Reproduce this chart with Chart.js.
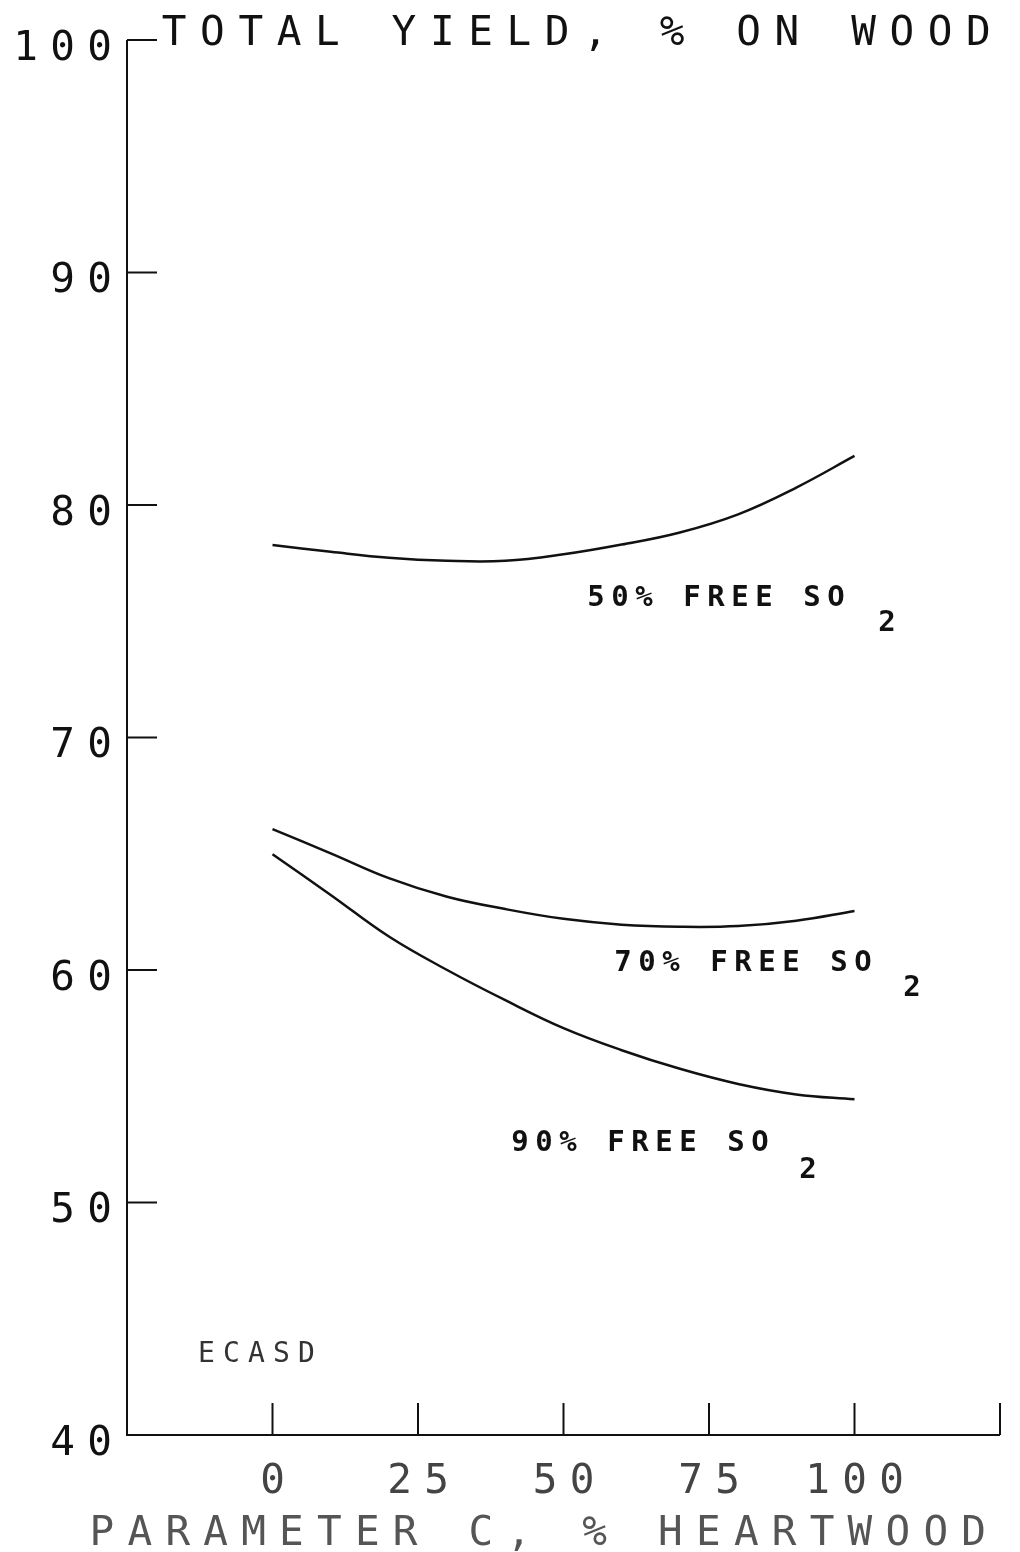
<!DOCTYPE html>
<html>
<head>
<meta charset="utf-8">
<script src="https://cdn.jsdelivr.net/npm/chart.js@4.4.1/dist/chart.umd.min.js"></script>
<style>
  html, body { margin: 0; padding: 0; background: #ffffff; }
  #wrap { width: 1020px; height: 1552px; }
</style>
</head>
<body>
<div id="wrap"><canvas id="c" width="1020" height="1552"></canvas></div>
<script>
// ---- data ----
const heartwood = [0, 10, 20, 30, 40, 50, 60, 70, 80, 90, 100];
const yield50 = [78.28, 77.99, 77.73, 77.60, 77.60, 77.88, 78.30, 78.82, 79.60, 80.75, 82.11];
const yield70 = [66.06, 65.02, 63.95, 63.15, 62.62, 62.20, 61.95, 61.86, 61.89, 62.12, 62.54];
const yield90 = [64.98, 63.23, 61.44, 60.00, 58.70, 57.50, 56.55, 55.75, 55.10, 54.65, 54.44];
const yTickValues = [40, 50, 60, 70, 80, 90, 100];
const xTickValues = [0, 25, 50, 75, 100, 125];
const xTickLabels = ["0", "25", "50", "75", "100"];
const seriesNames = ["50% FREE SO", "70% FREE SO", "90% FREE SO"];
const titleText = "TOTAL YIELD, % ON WOOD";
const xTitleText = "PARAMETER C, % HEARTWOOD";
const noteText = "ECASD";

const FONT = '"DejaVu Sans Mono", "Liberation Mono", monospace';

function drawMono(ctx, text, startX, centerY, advance, size, color, weight) {
  ctx.save();
  ctx.font = (weight || 'normal') + ' ' + size + 'px ' + FONT;
  ctx.fillStyle = color;
  ctx.textAlign = 'center';
  ctx.textBaseline = 'alphabetic';
  const base = centerY + size * 0.729 / 2;
  for (let i = 0; i < text.length; i++) {
    const ch = text[i];
    if (ch === ' ') continue;
    ctx.fillText(ch, startX + advance * (i + 0.5), base);
  }
  ctx.restore();
}

const plotterPlugin = {
  id: 'plotter',
  afterDraw(chart) {
    const ctx = chart.ctx;
    const xs = chart.scales.x, ys = chart.scales.y;
    const left = xs.getPixelForValue(-25), right = xs.getPixelForValue(125);
    const top = ys.getPixelForValue(100), bottom = ys.getPixelForValue(40);
    ctx.save();
    ctx.strokeStyle = '#111';
    ctx.lineWidth = 2;
    ctx.lineCap = 'butt';
    ctx.beginPath();
    ctx.moveTo(left, top); ctx.lineTo(left, bottom); ctx.lineTo(right, bottom);
    ctx.stroke();
    yTickValues.forEach(v => {
      if (v === 40) return;
      const y = ys.getPixelForValue(v);
      ctx.beginPath(); ctx.moveTo(left, y); ctx.lineTo(left + 30, y); ctx.stroke();
    });
    xTickValues.forEach(v => {
      const x = xs.getPixelForValue(v);
      ctx.beginPath(); ctx.moveTo(x, bottom); ctx.lineTo(x, bottom - 32); ctx.stroke();
    });
    ctx.restore();

    yTickValues.forEach(v => {
      const s = String(v);
      const y = ys.getPixelForValue(v) + 5;
      drawMono(ctx, s, 118 - s.length * 37, y, 37, 41, '#111');
    });
    xTickLabels.forEach((s, i) => {
      const x = xs.getPixelForValue(xTickValues[i]);
      drawMono(ctx, s, x - s.length * 37 / 2, 1478, 37, 41, '#444');
    });
    drawMono(ctx, titleText, 155, 30, 38.3, 41, '#111');
    drawMono(ctx, xTitleText, 83, 1530, 37.9, 41, '#555');

    const lab = [
      { s: seriesNames[0], x: 584, y: 595, sx: 887, sy: 620 },
      { s: seriesNames[1], x: 611, y: 960, sx: 912, sy: 985 },
      { s: seriesNames[2], x: 508, y: 1140, sx: 808, sy: 1167 }
    ];
    lab.forEach(l => {
      drawMono(ctx, l.s, l.x, l.y, 24, 29, '#111', 'bold');
      drawMono(ctx, '2', l.sx - 12, l.sy, 24, 29, '#111', 'bold');
    });
    drawMono(ctx, noteText, 194, 1352, 25, 28, '#333');
  }
};

const lineStyle = {
  borderColor: '#111',
  borderWidth: 2.5,
  pointRadius: 0,
  fill: false,
  tension: 0.4
};

new Chart(document.getElementById('c'), {
  type: 'line',
  data: {
    datasets: [
      Object.assign({ label: seriesNames[0] + '2', data: heartwood.map((x, i) => ({ x, y: yield50[i] })) }, lineStyle),
      Object.assign({ label: seriesNames[1] + '2', data: heartwood.map((x, i) => ({ x, y: yield70[i] })) }, lineStyle),
      Object.assign({ label: seriesNames[2] + '2', data: heartwood.map((x, i) => ({ x, y: yield90[i] })) }, lineStyle)
    ]
  },
  options: {
    responsive: false,
    animation: false,
    devicePixelRatio: 1,
    layout: { padding: { left: 127, right: 20, top: 40, bottom: 117 } },
    plugins: { legend: { display: false }, tooltip: { enabled: false } },
    scales: {
      x: { type: 'linear', min: -25, max: 125, display: false },
      y: { type: 'linear', min: 40, max: 100, display: false }
    }
  },
  plugins: [plotterPlugin]
});
</script>
</body>
</html>
